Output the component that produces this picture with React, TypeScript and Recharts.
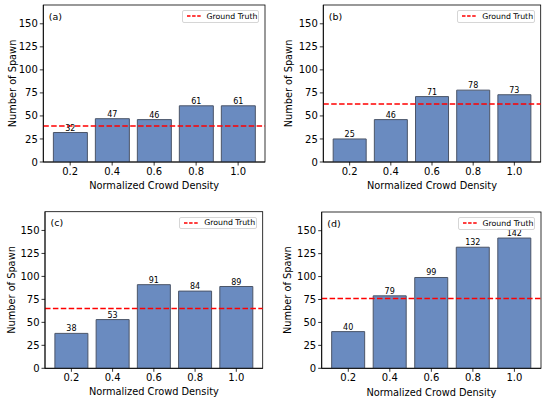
import { BarChart, Bar, XAxis, YAxis, ReferenceLine, LabelList } from 'recharts';

const densities = ['0.2', '0.4', '0.6', '0.8', '1.0'];
const spawnA = [32, 47, 46, 61, 61];
const spawnB = [25, 46, 71, 78, 73];
const spawnC = [38, 53, 91, 84, 89];
const spawnD = [40, 79, 99, 132, 142];
const groundTruth = [39, 63, 65, 76];
const panelTags = ['(a)', '(b)', '(c)', '(d)'];
const yTicks = [0, 25, 50, 75, 100, 125, 150];
const yMax = 170.4;

const FONT = '"DejaVu Sans", sans-serif';

interface PanelBox {
  x: number;
  y: number;
  w: number;
  h: number;
  l: number;
  r: number;
  t: number;
  b: number;
  yLabelX: number;
  xLabelY: number;
}

const boxes: PanelBox[] = [
  { x: 0, y: 0, w: 275, h: 200, l: 43.3, r: 265, t: 5, b: 162, yLabelX: 12, xLabelY: 185 },
  { x: 275, y: 0, w: 275, h: 200, l: 48.3, r: 265.7, t: 5, b: 162, yLabelX: 13.3, xLabelY: 185 },
  { x: 0, y: 200, w: 275, h: 202, l: 45, r: 262.7, t: 11.7, b: 168.3, yLabelX: 11.7, xLabelY: 191.7 },
  { x: 275, y: 200, w: 275, h: 202, l: 46.7, r: 266, t: 12, b: 168.3, yLabelX: 13, xLabelY: 192.7 },
];

const seriesList = [spawnA, spawnB, spawnC, spawnD];

function Panel({ box, values, gt, tag }: { box: PanelBox; values: number[]; gt: number; tag: string }) {
  const data = densities.map((d, i) => ({ density: d, spawn: values[i] }));
  const plotW = box.r - box.l;
  const pad = plotW * 0.14 / 5.28;
  const plotMidX = (box.l + box.r) / 2;
  const plotMidY = (box.t + box.b) / 2;
  const tickStyle = { fontSize: 10, fill: '#000', fontFamily: FONT };

  return (
    <div style={{ position: 'absolute', left: box.x, top: box.y, width: box.w, height: box.h }}>
      <BarChart
        width={box.w}
        height={box.h}
        data={data}
        margin={{ top: box.t, right: box.w - box.r, left: 0, bottom: 0 }}
        barCategoryGap="10%"
      >
        <XAxis
          dataKey="density"
          height={box.h - box.b}
          padding={{ left: pad, right: pad }}
          tick={tickStyle}
          tickSize={3.5}
          tickMargin={2}
          stroke="#000"
          strokeWidth={0.8}
          interval={0}
        />
        <YAxis
          type="number"
          domain={[0, yMax]}
          ticks={yTicks}
          width={box.l}
          tick={tickStyle}
          tickSize={3.5}
          tickMargin={2}
          stroke="#000"
          strokeWidth={0.8}
          allowDataOverflow
        />
        <Bar
          dataKey="spawn"
          fill="#6a8bc0"
          stroke="#4b5568"
          strokeWidth={1}
          isAnimationActive={false}
        >
          <LabelList
            dataKey="spawn"
            position="top"
            offset={2}
            style={{ fontSize: 8, fill: '#000', fontFamily: FONT }}
          />
        </Bar>
        <ReferenceLine y={gt} stroke="#ff0000" strokeWidth={1.5} strokeDasharray="5.5 2.4" />
        {/* frame (matplotlib spines) */}
        <rect
          x={box.l}
          y={box.t}
          width={plotW}
          height={box.b - box.t}
          fill="none"
          stroke="#000"
          strokeWidth={0.8}
        />
        <text x={box.l + 5.5} y={box.t + 14.5} fontSize={9.5} fontFamily={FONT} fill="#000">
          {tag}
        </text>
        <text
          x={plotMidX}
          y={box.xLabelY}
          fontSize={9.8}
          fontFamily={FONT}
          fill="#000"
          textAnchor="middle"
          dominantBaseline="central"
        >
          Normalized Crowd Density
        </text>
        <text
          x={box.yLabelX}
          y={plotMidY}
          fontSize={9.8}
          fontFamily={FONT}
          fill="#000"
          textAnchor="middle"
          dominantBaseline="central"
          transform={`rotate(-90, ${box.yLabelX}, ${plotMidY})`}
        >
          Number of Spawn
        </text>
      </BarChart>
      <div
        style={{
          position: 'absolute',
          left: box.r - 83.5,
          top: box.t + 5,
          width: 77.5,
          height: 12.5,
          boxSizing: 'border-box',
          border: '1px solid #d6d6d6',
          borderRadius: 2,
          background: 'rgba(255,255,255,0.85)',
          display: 'flex',
          alignItems: 'center',
          fontFamily: FONT,
          fontSize: 7.8,
          color: '#000',
          whiteSpace: 'nowrap',
        }}
      >
        <svg width={15} height={4} style={{ marginLeft: 4, marginRight: 5 }}>
          <line x1={0} y1={2} x2={15} y2={2} stroke="#ff0000" strokeWidth={1.5} strokeDasharray="3.5 1.6" />
        </svg>
        <span>Ground Truth</span>
      </div>
    </div>
  );
}

export default function App() {
  return (
    <div style={{ position: 'absolute', left: 0, top: 0, width: 550, height: 402, background: '#fff' }}>
      {boxes.map((box, i) => (
        <Panel key={panelTags[i]} box={box} values={seriesList[i]} gt={groundTruth[i]} tag={panelTags[i]} />
      ))}
    </div>
  );
}
